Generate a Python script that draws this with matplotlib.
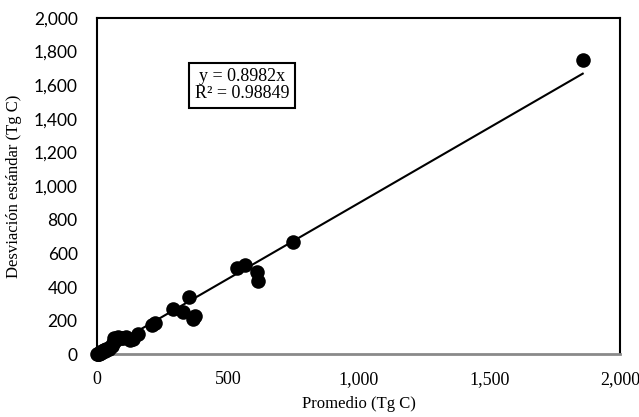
import matplotlib
matplotlib.use("Agg")
import matplotlib.pyplot as plt
import numpy as np
from matplotlib.ticker import FuncFormatter

# values (Tg C)
promedio = [0, 2, 4, 6, 8, 10, 13, 15, 18, 20, 24, 28, 30, 35, 40, 45, 50, 55, 60,
            65, 70, 75, 80, 90, 100, 111, 126, 139, 158, 209, 222,
            289, 330, 353, 366, 375, 534, 566, 611, 617, 748, 1858]
desviacion = [0, 3, 2, 6, 5, 10, 8, 14, 12, 18, 20, 25, 22, 30, 35, 32, 45, 50, 67,
              100, 80, 95, 105, 100, 95, 106, 86, 90, 122, 175, 187,
              269, 254, 344, 209, 229, 512, 532, 492, 437, 670, 1752]
pendiente = 0.8982
r2 = 0.98849
x_ticks = [0, 500, 1000, 1500, 2000]
y_ticks = [0, 200, 400, 600, 800, 1000, 1200, 1400, 1600, 1800, 2000]

fig = plt.figure(figsize=(6.39, 4.17), dpi=100)
ax = fig.add_axes([0.152, 0.15, 0.818, 0.807])

ax.scatter(promedio, desviacion, s=110, color="black", zorder=3, linewidths=0,
           clip_on=False)
xl = np.array([0, max(promedio)])
ax.plot(xl, pendiente * xl, color="black", lw=1.5, zorder=2)

ax.set_xlim(0, 2000)
ax.set_ylim(0, 2000)
ax.set_xticks(x_ticks)
ax.set_yticks(y_ticks)
fmt = FuncFormatter(lambda v, p: f"{int(v):,}")
ax.xaxis.set_major_formatter(fmt)
ax.yaxis.set_major_formatter(fmt)
ax.tick_params(axis="x", length=0, pad=12, labelsize=13,
               labelfontfamily="Liberation Serif")
ax.tick_params(axis="y", length=0, pad=14, labelsize=12.5,
               labelfontfamily="Lato")

for side in ["left", "top", "right"]:
    ax.spines[side].set_color("black")
    ax.spines[side].set_linewidth(1.5)
ax.spines["bottom"].set_color("#8a8a8a")
ax.spines["bottom"].set_linewidth(2)

ax.set_xlabel("Promedio (Tg C)", family="Liberation Serif", fontsize=12, labelpad=6)
ax.set_ylabel("Desviación estándar (Tg C)", family="Liberation Serif", fontsize=12)
ax.yaxis.set_label_coords(-0.144, 0.5)

ax.text(0.277, 0.80, f"y = {pendiente}x\nR² = {r2}", transform=ax.transAxes,
        ha="center", va="center", family="Liberation Serif", fontsize=13,
        linespacing=1.0,
        bbox=dict(boxstyle="square,pad=0.3", facecolor="white", edgecolor="black", linewidth=1.5))

fig.savefig("out.png", dpi=100)
